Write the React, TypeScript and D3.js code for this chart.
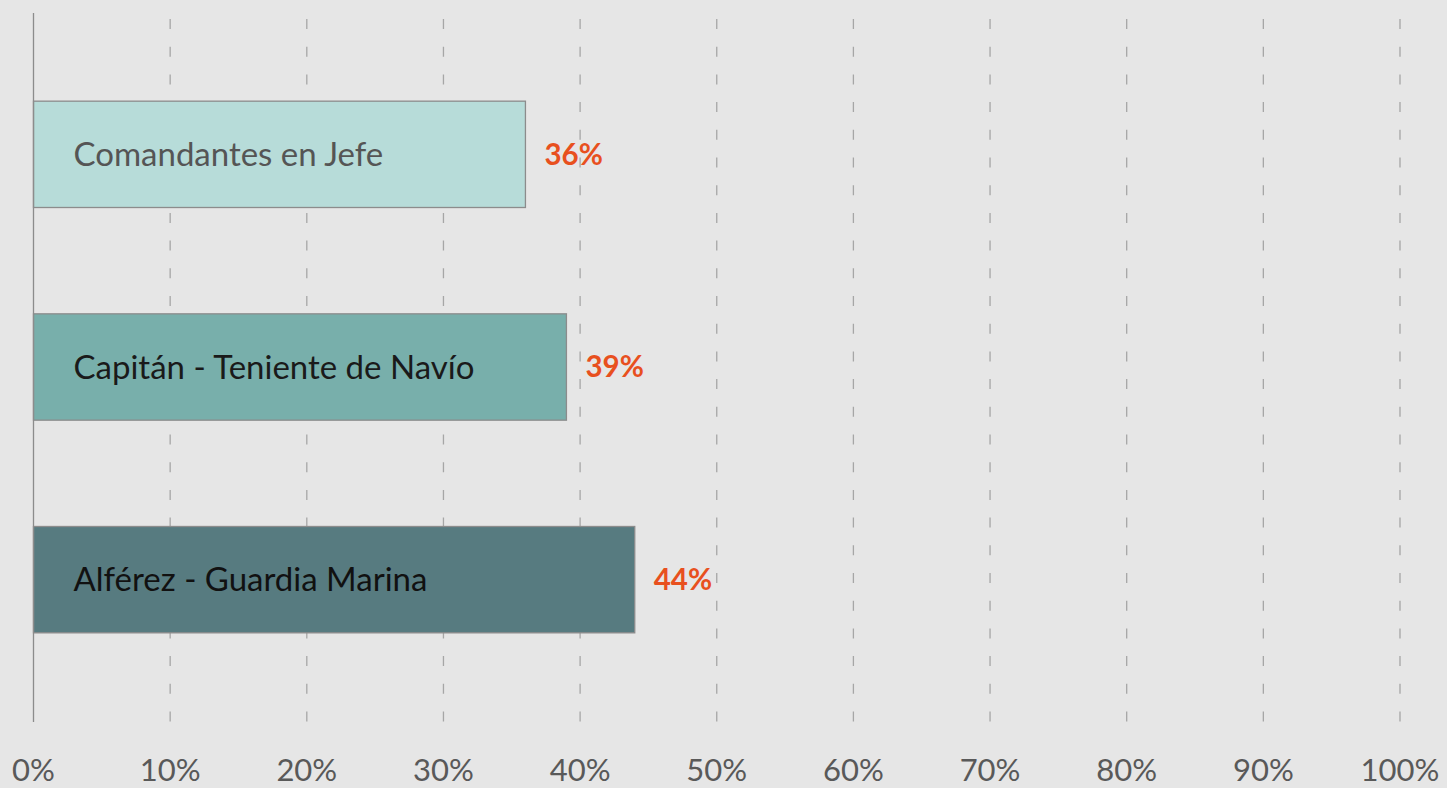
import { useEffect, useRef } from "react";
import * as d3 from "d3";

const categories = ["Comandantes en Jefe", "Capitán - Teniente de Navío", "Alférez - Guardia Marina"];
const values = [0.36, 0.39, 0.44];
const barColors = ["#b7dcd9", "#78afab", "#577b80"];
const labelColors = ["#555555", "#1a1a1a", "#111111"];
const ticks = [0, 0.1, 0.2, 0.3, 0.4, 0.5, 0.6, 0.7, 0.8, 0.9, 1];

const W = 1447;
const H = 788;

export default function App() {
  const ref = useRef<SVGSVGElement>(null);

  useEffect(() => {
    if (!ref.current) return;
    const svg = d3.select(ref.current);
    svg.selectAll("*").remove();

    const font = "Lato, 'Open Sans', sans-serif";
    const x = d3.scaleLinear().domain([0, 1]).range([33.5, 1400]);
    const y = d3.scaleBand().domain(categories).range([48, 686]).paddingInner(0.5).paddingOuter(0.25);
    const gridTop = 19;
    const gridBottom = 722;

    svg.append("rect").attr("width", W).attr("height", H).attr("fill", "#e6e6e6");

    // dashed gridlines
    svg
      .append("g")
      .selectAll("line")
      .data(ticks.slice(1))
      .enter()
      .append("line")
      .attr("x1", (d) => x(d))
      .attr("x2", (d) => x(d))
      .attr("y1", gridTop)
      .attr("y2", gridBottom)
      .attr("stroke", "#a6a6a6")
      .attr("stroke-width", 1.3)
      .attr("stroke-dasharray", "10,17.7");

    // bars
    svg
      .append("g")
      .selectAll("rect")
      .data(categories)
      .enter()
      .append("rect")
      .attr("x", x(0))
      .attr("y", (d) => y(d)!)
      .attr("width", (d, i) => x(values[i]) - x(0))
      .attr("height", y.bandwidth())
      .attr("fill", (d, i) => barColors[i])
      .attr("stroke", "#8c8c8c")
      .attr("stroke-width", 1.3);

    // vertical axis line
    svg
      .append("line")
      .attr("x1", x(0))
      .attr("x2", x(0))
      .attr("y1", 13)
      .attr("y2", gridBottom)
      .attr("stroke", "#8c8c8c")
      .attr("stroke-width", 1.3);

    // category labels inside bars
    svg
      .append("g")
      .selectAll("text")
      .data(categories)
      .enter()
      .append("text")
      .attr("x", x(0) + 40)
      .attr("y", (d) => y(d)! + y.bandwidth() / 2)
      .attr("dy", "0.35em")
      .attr("font-family", font)
      .attr("font-size", 33)
      .attr("fill", (d, i) => labelColors[i])
      .text((d) => d);

    // value labels
    svg
      .append("g")
      .selectAll("text")
      .data(categories)
      .enter()
      .append("text")
      .attr("x", (d, i) => x(values[i]) + 19)
      .attr("y", (d) => y(d)! + y.bandwidth() / 2)
      .attr("dy", "0.35em")
      .attr("font-family", font)
      .attr("font-size", 29.5)
      .attr("font-weight", "bold")
      .attr("fill", "#e8501e")
      .text((d, i) => d3.format(".0%")(values[i]));

    // x axis labels
    svg
      .append("g")
      .selectAll("text")
      .data(ticks)
      .enter()
      .append("text")
      .attr("x", (d) => x(d))
      .attr("y", 781)
      .attr("text-anchor", "middle")
      .attr("font-family", font)
      .attr("font-size", 31)
      .attr("fill", "#595959")
      .text((d) => d3.format(".0%")(d));
  }, []);

  return (
    <div style={{ position: "absolute", left: 0, top: 0 }}>
      <svg ref={ref} width={W} height={H} style={{ display: "block" }} />
    </div>
  );
}
